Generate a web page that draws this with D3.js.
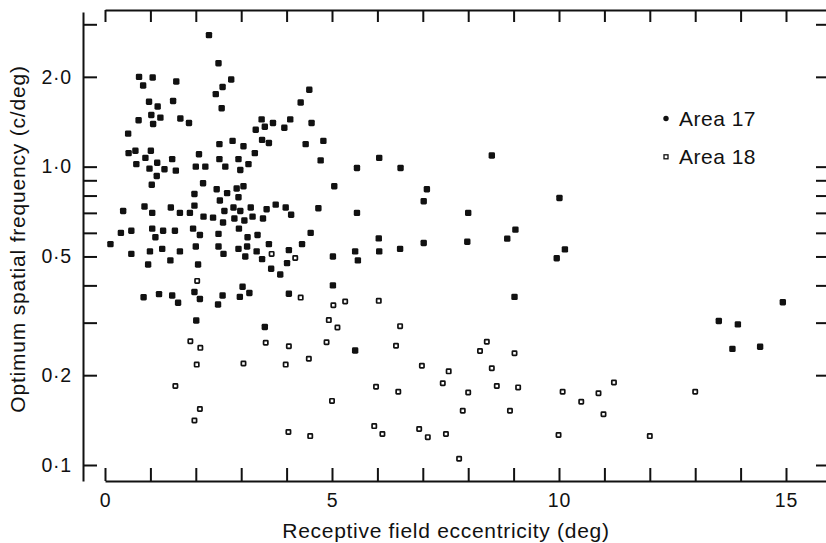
<!DOCTYPE html>
<html>
<head>
<meta charset="utf-8">
<script src="https://cdn.jsdelivr.net/npm/d3@7"></script>
<style>
  body { margin: 0; background: #fff; }
  svg { display: block; font-family: "Liberation Sans", Arial, sans-serif; }
</style>
</head>
<body>
<div id="chart"></div>
<script>
const chart_width = 826;
const chart_height = 543;
const ink = '#111';

// eccentricity (deg), optimum spatial frequency (c/deg)
const area17 = [
    [2.29, 2.76], [2.50, 2.22], [0.75, 2.00], [1.05, 1.99], [0.84, 1.87], [1.57, 1.93], [2.78, 1.96], [2.59, 1.85],
    [2.44, 1.75], [2.57, 1.57], [4.50, 1.81], [4.31, 1.64], [0.97, 1.65], [1.16, 1.59], [1.50, 1.66], [1.02, 1.49],
    [1.22, 1.46], [1.06, 1.39], [0.74, 1.43], [1.66, 1.45], [1.85, 1.40], [0.51, 1.29], [3.45, 1.44], [3.52, 1.36],
    [3.70, 1.40], [3.32, 1.33], [3.95, 1.35], [4.08, 1.44], [4.55, 1.40], [3.46, 1.23], [3.61, 1.20], [2.81, 1.22],
    [2.52, 1.19], [3.05, 1.17], [4.42, 1.19], [4.81, 1.22], [0.52, 1.11], [0.67, 1.13], [1.01, 1.13], [0.89, 1.07],
    [1.48, 1.06], [0.69, 1.02], [1.15, 1.03], [0.98, 0.985], [1.31, 0.98], [1.56, 0.97], [2.07, 1.10], [2.52, 1.06],
    [2.94, 1.06], [3.30, 1.11], [3.16, 1.02], [2.98, 0.975], [2.65, 1.00], [2.00, 1.00], [2.21, 1.00], [4.75, 1.05],
    [1.14, 0.93], [1.03, 0.87], [5.55, 0.99], [6.04, 1.07], [6.51, 0.99], [2.16, 0.88], [1.97, 0.81], [2.46, 0.84],
    [2.69, 0.815], [2.90, 0.845], [3.05, 0.86], [2.94, 0.79], [2.53, 0.77], [5.05, 0.86], [0.40, 0.71], [0.87, 0.735],
    [1.04, 0.70], [1.45, 0.73], [1.65, 0.70], [1.87, 0.70], [1.97, 0.74], [2.17, 0.68], [2.38, 0.675], [2.60, 0.65],
    [2.63, 0.71], [2.83, 0.73], [2.98, 0.71], [3.21, 0.73], [2.85, 0.67], [3.07, 0.66], [3.25, 0.68], [3.48, 0.67],
    [3.56, 0.72], [3.76, 0.746], [3.98, 0.73], [4.10, 0.69], [4.70, 0.725], [5.55, 0.70], [0.35, 0.60], [0.58, 0.61],
    [1.04, 0.62], [1.11, 0.58], [1.28, 0.61], [1.54, 0.61], [1.94, 0.62], [2.09, 0.59], [2.50, 0.595], [2.95, 0.62],
    [3.14, 0.58], [3.36, 0.59], [4.53, 0.60], [4.34, 0.55], [0.12, 0.55], [0.58, 0.51], [0.99, 0.52], [1.26, 0.53],
    [1.65, 0.52], [2.00, 0.54], [0.95, 0.47], [1.44, 0.485], [2.05, 0.47], [2.50, 0.54], [2.61, 0.51], [2.94, 0.53],
    [3.13, 0.54], [3.09, 0.50], [3.34, 0.52], [3.46, 0.49], [3.61, 0.55], [4.05, 0.525], [4.01, 0.475], [3.66, 0.455],
    [3.86, 0.435], [5.02, 0.50], [5.51, 0.52], [5.57, 0.485], [6.04, 0.52], [6.03, 0.575], [6.50, 0.53], [0.85, 0.365],
    [1.19, 0.374], [1.48, 0.37], [1.61, 0.35], [1.97, 0.38], [2.09, 0.36], [2.01, 0.305], [2.49, 0.345], [2.59, 0.37],
    [2.97, 0.366], [3.03, 0.396], [3.18, 0.377], [3.52, 0.29], [4.05, 0.375], [5.02, 0.40], [5.51, 0.242], [8.52, 1.09],
    [7.09, 0.84], [7.02, 0.766], [8.00, 0.70], [7.02, 0.555], [7.98, 0.56], [8.86, 0.574], [9.04, 0.615], [10.01, 0.785],
    [9.95, 0.493], [10.13, 0.528], [9.02, 0.366], [13.52, 0.304], [13.94, 0.296], [13.82, 0.245], [14.43, 0.249], [14.93, 0.351]
];

const area18 = [
    [3.67, 0.51], [4.19, 0.494], [2.03, 0.414], [4.31, 0.364], [1.88, 0.26], [2.10, 0.247], [2.02, 0.217], [1.55, 0.184],
    [1.97, 0.141], [2.09, 0.154], [3.05, 0.219], [3.54, 0.257], [4.05, 0.25], [3.98, 0.217], [4.49, 0.227], [4.04, 0.129],
    [4.52, 0.125], [4.88, 0.258], [5.03, 0.343], [4.93, 0.306], [5.12, 0.289], [5.29, 0.353], [5.00, 0.164], [6.03, 0.355],
    [6.50, 0.292], [6.41, 0.251], [5.97, 0.183], [6.46, 0.176], [5.93, 0.135], [6.11, 0.127], [6.92, 0.132], [6.98, 0.215],
    [7.11, 0.124], [7.57, 0.206], [7.44, 0.188], [7.51, 0.127], [7.80, 0.105], [7.88, 0.152], [8.00, 0.175], [8.26, 0.241],
    [8.41, 0.259], [8.52, 0.211], [8.63, 0.184], [9.02, 0.237], [9.10, 0.182], [8.92, 0.152], [10.08, 0.176], [9.99, 0.126],
    [10.49, 0.163], [10.87, 0.174], [11.21, 0.189], [10.98, 0.148], [12.00, 0.125], [13.00, 0.176]
];

const x_ticks = d3.range(0, 16);
const x_labels = [0, 5, 10, 15];
const y_ticks = [0.1, 0.2, 0.3, 0.4, 0.5, 0.6, 0.7, 0.8, 0.9, 1, 2, 3];
const y_labels = [0.1, 0.2, 0.5, 1, 2];
const legend_labels = ['Area 17', 'Area 18'];

//--------------------------------------------------------------------
const svg = d3.select('#chart')
    .append('svg')
    .attr('width', chart_width)
    .attr('height', chart_height);

//--------------------------------------------------------------------
// Scales
const x_scale = d3.scaleLinear()
    .domain([0, 16])
    .range([105, 831.4]);

const y_scale = d3.scaleLog()
    .domain([0.1, 3])
    .range([465, 24.3]);

// same mapping, stretched to the frame length
const y_frame = y_scale.copy()
    .domain([y_scale.invert(481), y_scale.invert(12)])
    .range([481, 12]);

const dot_fmt = d => y_labels.includes(d) ? d3.format('.1f')(d).replace('.', '\u00b7') : '';

//--------------------------------------------------------------------
// Axes (ticks point inward on all four sides)
function style_axis(g) {
    g.attr('font-family', null).attr('font-size', null);
    g.selectAll('.domain, .tick line')
        .attr('stroke', ink)
        .attr('stroke-width', 2);
    g.selectAll('text')
        .attr('fill', ink)
        .style('font-size', '19.5px')
        .style('letter-spacing', '0.8px');
}

svg.append('g')
    .attr('transform', 'translate(0,481)')
    .call(d3.axisBottom(x_scale)
        .tickValues(x_ticks)
        .tickSize(-13)
        .tickSizeOuter(0)
        .tickPadding(12)
        .tickFormat(d => x_labels.includes(d) ? d : ''))
    .call(style_axis);

svg.append('g')
    .attr('transform', 'translate(0,10)')
    .call(d3.axisTop(x_scale)
        .tickValues(x_ticks)
        .tickSize(-12)
        .tickSizeOuter(0)
        .tickFormat(''))
    .call(style_axis);

svg.append('g')
    .attr('transform', 'translate(83,0)')
    .call(d3.axisLeft(y_frame)
        .tickValues(y_ticks)
        .tickSize(-14)
        .tickSizeOuter(0)
        .tickPadding(11)
        .tickFormat(dot_fmt))
    .call(style_axis);

svg.append('g')
    .attr('transform', 'translate(830,0)')
    .call(d3.axisRight(y_frame)
        .tickValues(y_ticks)
        .tickSize(-14)
        .tickSizeOuter(0)
        .tickFormat(''))
    .call(style_axis);

//--------------------------------------------------------------------
// Points
const s17 = 6.4;
svg.append('g').selectAll('rect')
    .data(area17)
    .enter()
    .append('rect')
    .attr('x', d => x_scale(d[0]) - s17 / 2)
    .attr('y', d => y_scale(d[1]) - s17 / 2)
    .attr('width', s17)
    .attr('height', s17)
    .attr('rx', 1.4)
    .attr('fill', ink);

const s18 = 4.3;
svg.append('g').selectAll('rect')
    .data(area18)
    .enter()
    .append('rect')
    .attr('x', d => x_scale(d[0]) - s18 / 2)
    .attr('y', d => y_scale(d[1]) - s18 / 2)
    .attr('width', s18)
    .attr('height', s18)
    .attr('rx', 0.6)
    .attr('fill', '#fff')
    .attr('stroke', ink)
    .attr('stroke-width', 1.7);

//--------------------------------------------------------------------
// Legend
const legend = svg.append('g').attr('transform', 'translate(666,0)');
legend.append('circle')
    .attr('cx', 0).attr('cy', 118.5).attr('r', 2.7)
    .attr('fill', ink);
legend.append('rect')
    .attr('x', -2).attr('y', 154.8).attr('width', 4).attr('height', 4)
    .attr('fill', '#fff').attr('stroke', ink).attr('stroke-width', 1.3);
legend.selectAll('text')
    .data(legend_labels)
    .enter()
    .append('text')
    .attr('x', 13)
    .attr('y', (d, i) => 125.5 + i * 38.5)
    .attr('fill', ink)
    .style('font-size', '21px')
    .style('letter-spacing', '0.5px')
    .text(d => d);

//--------------------------------------------------------------------
// Axis titles
svg.append('text')
    .attr('transform', 'translate(25,239) rotate(-90)')
    .attr('text-anchor', 'middle')
    .attr('fill', ink)
    .style('font-size', '21px')
    .style('letter-spacing', '0.8px')
    .text('Optimum spatial frequency (c/deg)');

svg.append('text')
    .attr('x', 446)
    .attr('y', 538)
    .attr('text-anchor', 'middle')
    .attr('fill', ink)
    .style('font-size', '21px')
    .style('letter-spacing', '0.7px')
    .text('Receptive field eccentricity (deg)');
</script>
</body>
</html>
